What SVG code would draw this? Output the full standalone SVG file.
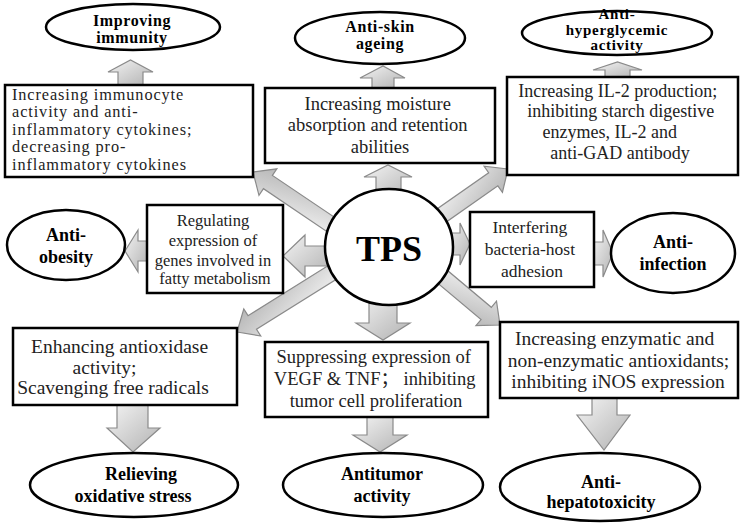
<svg xmlns="http://www.w3.org/2000/svg" width="741" height="527" viewBox="0 0 741 527">
<defs>
<linearGradient id="g" x1="0" y1="0" x2="1" y2="1">
<stop offset="0" stop-color="#f4f4f4"/>
<stop offset="1" stop-color="#b2b2b2"/>
</linearGradient>
<style>
.arr{fill:url(#g);stroke:#8a8a8a;stroke-width:1.2;stroke-linejoin:miter}
.box{fill:#fff;stroke:#000;stroke-width:2.5}
.ell{fill:#fff;stroke:#000;stroke-width:2.5}
.t{font-family:"Liberation Serif","Noto Sans CJK SC",serif;fill:#222;text-anchor:middle}
.b{font-family:"Liberation Serif",serif;font-weight:bold;font-size:18px;fill:#000;text-anchor:middle}
.s{font-size:16px;letter-spacing:0.6px}
.xs{font-size:15px;letter-spacing:0.7px}
</style>
</defs>
<rect width="741" height="527" fill="#fff"/>
<g id="connectors">
<polygon class="arr" points="118,85 118,72 108,72 130.5,60 153,72 143,72 143,85"/>
<polygon class="arr" points="372,88 372,78 360,78 383,66 405,78 394,78 394,88"/>
<polygon class="arr" points="376,200 376,177 364,177 388,165 412,177 401,177 401,200"/>
<polygon class="arr" points="605,77 605,70 593,70 617.5,62 642,70 630,70 630,77"/>
<polygon class="arr" points="369,295 369,323 356,323 383,340 410,323 397,323 397,295"/>
<polygon class="arr" points="117,405 117,428 107,428 133,452 160,428 148,428 148,405"/>
<polygon class="arr" points="367,417 367,435 353,435 380,452 407,435 393,435 393,417"/>
<polygon class="arr" points="592,398 592,415 577,415 604,450 630,415 617,415 617,398"/>
<polygon class="arr" points="330,246 305,246 305,235 283,256 305,277 305,266 330,266"/>
<polygon class="arr" points="147,241 138,241 138,230 125,251 138,272 138,261 147,261"/>
<polygon class="arr" points="445,233 460,233 460,223 470,244 460,265 460,255 445,255"/>
<polygon class="arr" points="594,242 603,242 603,230 613,253 603,277 603,265 594,265"/>
<path class="arr" transform="translate(253,172) rotate(214)" d="M0,0 L-18,-16 L-18,-8 L-97,-8 L-97,8 L-18,8 L-18,16 Z"/>
<path class="arr" transform="translate(508,169) rotate(-35)" d="M0,0 L-18,-16 L-18,-8 L-85,-8 L-85,8 L-18,8 L-18,16 Z"/>
<path class="arr" transform="translate(237,332) rotate(148)" d="M0,0 L-18,-16 L-18,-8 L-115,-8 L-115,8 L-18,8 L-18,16 Z"/>
<path class="arr" transform="translate(500,325) rotate(40)" d="M0,0 L-18,-16 L-18,-8 L-80,-8 L-80,8 L-18,8 L-18,16 Z"/>
</g>
<g id="tps">
<ellipse class="ell" cx="389" cy="247" rx="64" ry="58"/>
<text class="b" x="389" y="261" style="font-size:36px">TPS</text>
</g>
<g id="box-immunity">
<rect class="box" x="5" y="85" width="248" height="92"/>
<text class="t" style="font-size:16.3px;letter-spacing:0.9px;text-anchor:start">
<tspan x="12" y="99.5">Increasing immunocyte</tspan>
<tspan x="12" y="117">activity and anti-</tspan>
<tspan x="12" y="134.5">inflammatory cytokines;</tspan>
<tspan x="12" y="152">decreasing pro-</tspan>
<tspan x="12" y="169.5">inflammatory cytokines</tspan>
</text>
</g>
<g id="ell-immunity">
<ellipse class="ell" cx="133" cy="27" rx="87" ry="23"/>
<text class="b s"><tspan x="132" y="26">Improving</tspan><tspan x="132" y="43">immunity</tspan></text>
</g>
<g id="box-skin">
<rect class="box" x="265" y="88" width="230" height="75"/>
<text class="t" style="font-size:18.5px">
<tspan x="380" y="110">Increasing moisture</tspan>
<tspan x="380" y="131">absorption and retention</tspan>
<tspan x="380" y="153">abilities</tspan>
</text>
</g>
<g id="ell-skin">
<ellipse class="ell" cx="380" cy="38" rx="85" ry="26"/>
<text class="b s"><tspan x="380" y="32">Anti-skin</tspan><tspan x="380" y="49">ageing</tspan></text>
</g>
<g id="box-glycemic">
<rect class="box" x="507" y="77" width="231" height="98"/>
<text class="t" style="font-size:18px">
<tspan x="620" y="97">Increasing IL-2 production;</tspan>
<tspan x="623" y="117">inhibiting starch digestive</tspan>
<tspan x="612" y="138">enzymes, IL-2 and</tspan>
<tspan x="620" y="159">anti-GAD antibody</tspan>
</text>
</g>
<g id="ell-glycemic">
<ellipse class="ell" cx="617" cy="33" rx="95" ry="22"/>
<text class="b xs"><tspan x="617" y="19">Anti-</tspan><tspan x="617" y="34.5">hyperglycemic</tspan><tspan x="617" y="50">activity</tspan></text>
</g>
<g id="box-obesity">
<rect class="box" x="147" y="205" width="136" height="88"/>
<text class="t" style="font-size:16.5px">
<tspan x="215" y="226">Regulating</tspan>
<tspan x="215" y="246">expression of</tspan>
<tspan x="215" y="266">genes involved in</tspan>
<tspan x="215" y="284">fatty metabolism</tspan>
</text>
</g>
<g id="ell-obesity">
<ellipse class="ell" cx="66" cy="245" rx="59" ry="35"/>
<text class="b"><tspan x="66" y="241">Anti-</tspan><tspan x="66" y="263">obesity</tspan></text>
</g>
<g id="box-infection">
<rect class="box" x="470" y="212" width="124" height="75"/>
<text class="t" style="font-size:17.5px">
<tspan x="532" y="233">Interfering</tspan>
<tspan x="532" y="255">bacteria-host</tspan>
<tspan x="532" y="277">adhesion</tspan>
</text>
</g>
<g id="ell-infection">
<ellipse class="ell" cx="673" cy="253" rx="62" ry="40"/>
<text class="b"><tspan x="673" y="248">Anti-</tspan><tspan x="673" y="270">infection</tspan></text>
</g>
<g id="box-oxidative">
<rect class="box" x="13" y="328" width="224" height="77"/>
<text class="t" style="font-size:19.5px">
<tspan x="122" y="353">Enhancing antioxidase</tspan>
<tspan x="107" y="374">activity;</tspan>
<tspan x="113" y="394">Scavenging free radicals</tspan>
</text>
</g>
<g id="ell-oxidative">
<ellipse class="ell" cx="134" cy="485" rx="104" ry="32"/>
<text class="b"><tspan x="141" y="480">Relieving</tspan><tspan x="133" y="502">oxidative stress</tspan></text>
</g>
<g id="box-tumor">
<rect class="box" x="265" y="342" width="223" height="75"/>
<text class="t" style="font-size:18.5px">
<tspan x="376" y="363">Suppressing expression of</tspan>
<tspan x="377" y="385">VEGF &amp; TNF；  inhibiting</tspan>
<tspan x="376" y="407">tumor cell proliferation</tspan>
</text>
</g>
<g id="ell-tumor">
<ellipse class="ell" cx="383" cy="485" rx="100" ry="32"/>
<text class="b"><tspan x="382" y="480">Antitumor</tspan><tspan x="382" y="502">activity</tspan></text>
</g>
<g id="box-hepato">
<rect class="box" x="500" y="322" width="238" height="76"/>
<text class="t" style="font-size:19.5px">
<tspan x="617" y="345">Increasing enzymatic and</tspan>
<tspan x="621" y="367">non-enzymatic antioxidants;</tspan>
<tspan x="618" y="388">inhibiting iNOS expression</tspan>
</text>
</g>
<g id="ell-hepato">
<ellipse class="ell" cx="600" cy="487" rx="100" ry="34"/>
<text class="b"><tspan x="601" y="488">Anti-</tspan><tspan x="601" y="508">hepatotoxicity</tspan></text>
</g>
</svg>
